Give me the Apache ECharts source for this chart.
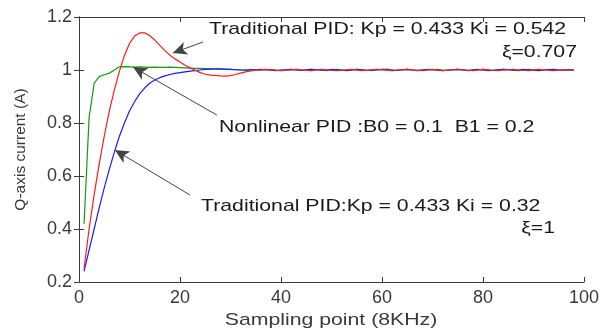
<!DOCTYPE html>
<html>
<head>
<meta charset="utf-8">
<script src="https://cdn.jsdelivr.net/npm/echarts@6/dist/echarts.min.js"></script>
<style>html,body{margin:0;padding:0;background:#fff}#c{width:616px;height:331px}</style>
</head>
<body>
<div id="c"></div>
<script>
// Sampling points 1..98
var redValues = [0.25,0.40,0.53,0.645,0.75,0.845,0.925,0.995,1.055,1.10,
 1.128,1.14,1.14,1.13,1.113,1.093,1.073,1.056,1.042,1.03,
 1.018,1.008,0.999,0.99,0.984,0.981,0.98,0.978,0.977,0.979,
 0.983,0.988,0.993,0.997,0.999,1.001,1.002,1.001,0.999,0.998,
 0.999,1.001,1.002,1.001,0.999,0.998,1.0,1.002,1.001,0.999,
 0.998,0.999,1.001,1.002,1.0,0.998,0.999,1.001,1.002,1.001,
 0.999,0.998,1.0,1.001,1.002,1.0,0.998,0.999,1.001,1.002,
 1.0,0.998,0.999,1.001,1.002,1.001,0.999,0.998,1.0,1.002,
 1.001,0.999,0.998,1.0,1.001,1.002,1.0,0.999,0.998,1.0,
 1.002,1.001,0.999,0.998,1.0,1.001,1.0,0.999];
var greenValues = [0.42,0.82,0.95,0.975,0.982,0.988,1.0,1.012,1.013,1.012,
 1.011,1.012,1.011,1.01,1.011,1.01,1.01,1.011,1.01,1.009,
 1.008,1.007,1.006,1.006,1.005,1.004,1.004,1.003,1.002,1.002,
 1.001,1.0,1.001,1.002,1.0,0.999,1.001,1.002,1.0,0.999,
 1.0,1.002,1.001,0.999,1.0,1.002,1.001,0.999,0.998,1.0,
 1.002,1.001,0.999,1.0,1.002,1.001,0.999,0.998,1.0,1.002,
 1.003,1.001,0.999,1.0,1.002,1.001,0.999,0.998,1.0,1.001,
 1.002,1.0,0.999,1.001,1.002,1.0,0.998,0.999,1.001,1.002,
 1.0,0.999,1.001,1.002,1.001,0.999,0.998,1.0,1.002,1.001,
 0.999,1.0,1.002,1.001,0.999,1.0,1.001,1.0];
var blueValues = [0.24,0.32,0.40,0.48,0.555,0.625,0.69,0.75,0.80,0.845,
 0.88,0.91,0.932,0.95,0.962,0.971,0.978,0.983,0.987,0.99,
 0.993,0.996,0.998,1.0,1.002,1.003,1.004,1.004,1.003,1.002,
 1.001,1.0,0.999,1.0,1.001,1.002,1.001,0.999,0.998,1.0,
 1.001,1.002,1.0,0.999,1.001,1.002,1.001,0.999,1.0,1.002,
 1.001,0.999,0.998,1.0,1.002,1.001,0.999,1.0,1.001,1.002,
 1.0,0.998,0.999,1.001,1.002,1.0,0.999,1.001,1.002,1.001,
 0.999,0.998,1.0,1.001,1.002,1.0,0.999,1.001,1.002,1.0,
 0.998,0.999,1.001,1.002,1.001,0.999,1.0,1.002,1.001,0.999,
 0.998,1.0,1.001,1.002,1.0,0.999,1.001,1.0];
var xTicks = [0,20,40,60,80,100];
var yTicks = [0.2,0.4,0.6,0.8,1.0,1.2];

function pairs(vals){ return vals.map(function(v,i){ return [i+1, v]; }); }

var axisColor = '#3a3a3a';
var labelFont = {color:'#3a3a3a', fontFamily:'Liberation Sans', fontSize:18};
var chart = echarts.init(document.getElementById('c'));
var annFont = '17px "Liberation Sans"';
function ann(x, y, text, align){
  return {type:'text', x:x, y:y, scaleX:1.25, silent:true,
    style:{text:text, font:annFont, fill:'#1a1a1a', textAlign:align||'left', textVerticalAlign:'middle'}};
}
chart.setOption({
  animation:false,
  grid:{left:79, top:17, right:32, bottom:49},
  xAxis:[{type:'value', min:0, max:100, interval:20,
    axisLine:{show:true, lineStyle:{color:axisColor, width:1}},
    axisTick:{show:true, inside:true, length:5, lineStyle:{color:axisColor}},
    axisLabel:Object.assign({margin:7, formatter:function(v){return xTicks.indexOf(v)>=0?String(v):'';}}, labelFont),
    splitLine:{show:false}},
   {type:'value', position:'top', min:0, max:100, interval:20,
    axisLine:{show:true, lineStyle:{color:axisColor, width:1}},
    axisTick:{show:true, inside:true, length:5, lineStyle:{color:axisColor}},
    axisLabel:{show:false}, splitLine:{show:false}}],
  yAxis:[{type:'value', min:0.2, max:1.2, interval:0.2,
    name:'Q-axis current (A)', nameLocation:'middle', nameGap:50,
    nameTextStyle:{color:'#3a3a3a', fontFamily:'Liberation Sans', fontSize:15.5},
    axisLine:{show:true, lineStyle:{color:axisColor, width:1}},
    axisTick:{show:true, inside:true, length:5, lineStyle:{color:axisColor}},
    axisLabel:Object.assign({margin:7, formatter:function(v){var r=Math.round(v*10)/10; return r===1?'1':r.toFixed(1);}}, labelFont),
    splitLine:{show:false}},
   {type:'value', position:'right', min:0.2, max:1.2, interval:0.2,
    axisLine:{show:true, lineStyle:{color:axisColor, width:1}},
    axisTick:{show:true, inside:true, length:5, lineStyle:{color:axisColor}},
    axisLabel:{show:false}, splitLine:{show:false}}],
  graphic:[
    ann(209, 29, 'Traditional PID: Kp = 0.433 Ki = 0.542'),
    ann(577, 52, '\u03BE=0.707', 'right'),
    ann(219, 127, 'Nonlinear PID :B0 = 0.1  B1 = 0.2'),
    ann(201, 206, 'Traditional PID:Kp = 0.433 Ki = 0.32'),
    ann(555, 228, '\u03BE=1', 'right'),
    {type:'text', x:331, y:320, scaleX:1.25, silent:true,
     style:{text:'Sampling point (8KHz)', font:'17px "Liberation Sans"', fill:'#3a3a3a', textAlign:'center', textVerticalAlign:'middle'}}
  ],
  series:[
    {type:'line', name:'Traditional PID 0.542', data:pairs(redValues), showSymbol:false, smooth:false,
     lineStyle:{color:'#ff1a1a', width:1.2}, z:3,
     markLine:{silent:true, symbol:['none','arrow'], symbolSize:[10,14],
       label:{show:false}, lineStyle:{color:'#444', width:1, type:'solid'}, itemStyle:{color:'#111'},
       emphasis:{disabled:true},
       data:[
         [{coord:[24.6,1.106]},{coord:[18.6,1.064]}],
         [{coord:[27.3,0.83]},{coord:[10.7,1.011]}],
         [{coord:[22,0.528]},{coord:[7.1,0.698]}]
       ]}},
    {type:'line', name:'Nonlinear PID', data:pairs(greenValues), showSymbol:false,
     lineStyle:{color:'#109a10', width:1.2}, z:2},
    {type:'line', name:'Traditional PID 0.32', data:pairs(blueValues), showSymbol:false,
     lineStyle:{color:'#1a1aff', width:1.2}, z:2}
  ]
});
</script>
</body>
</html>
